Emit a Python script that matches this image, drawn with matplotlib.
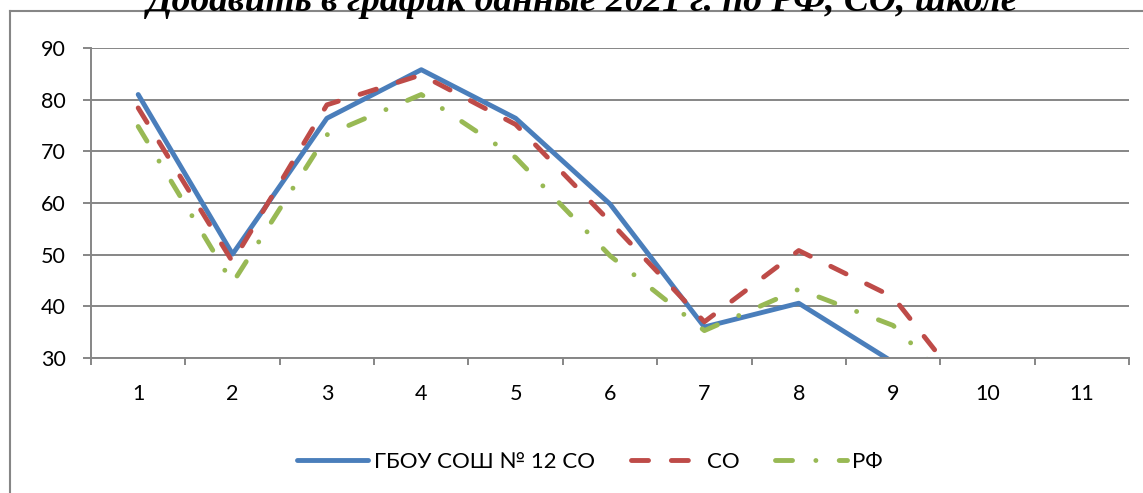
import matplotlib
matplotlib.use("Agg")
import matplotlib.pyplot as plt
from matplotlib.lines import Line2D

plt.rcParams["font.family"] = ["Lato", "DejaVu Sans"]

# номера заданий и средний процент выполнения
tasks = list(range(1, 12))
tick_labels = [str(t) for t in tasks]
school = [81.0, 50.1, 76.4, 85.8, 76.4, 59.8, 36.0, 40.6, 29.2]
region = [78.4, 48.6, 79.0, 84.8, 75.2, 56.4, 37.0, 50.8, 41.8, 18.6]
russia = [74.8, 44.5, 73.2, 81.0, 68.8, 49.8, 35.3, 43.3, 36.3, 18.2]
names = ["ГБОУ СОШ № 12 СО", "СО", "РФ"]
colors = ["#4A7EBB", "#BE4B48", "#98B954"]
title = "Добавить в график данные 2021 г. по РФ, СО, школе"

W, H = 1143, 493
fig = plt.figure(figsize=(W / 100, H / 100), dpi=100)
ax = fig.add_axes([91 / W, 1 - 358 / H, (1129 - 91) / W, (358 - 48) / H])

grid_c = "#868686"
lw = 3.5
ax.plot(tasks[:len(school)], school, color=colors[0], lw=lw,
        solid_joinstyle="round", solid_capstyle="round", label=names[0])
ax.plot(tasks[:len(region)], region, color=colors[1], lw=lw,
        dashes=(3.5, 4.7), dash_capstyle="round", dash_joinstyle="round",
        label=names[1])
ax.plot(tasks[:len(russia)], russia, color=colors[2], lw=lw,
        dashes=(3.5, 4.8, 0.01, 4.8), dash_capstyle="round",
        dash_joinstyle="round", label=names[2])

ax.set_xlim(0.5, 11.5)
ax.set_ylim(30, 90)
ax.set_yticks(range(30, 91, 10))
ax.yaxis.grid(True, color=grid_c, lw=1.4)
ax.set_axisbelow(True)

# деления по границам категорий, подписи по центру
ax.set_xticks([t - 0.5 for t in tasks] + [11.5])
ax.set_xticklabels([])
ax.set_xticks(tasks, minor=True)
ax.set_xticklabels(tick_labels, minor=True)
ax.tick_params(axis="x", which="major", length=5, width=1.4, color=grid_c)
ax.tick_params(axis="x", which="minor", length=0, pad=19, labelsize=15.5)
ax.tick_params(axis="y", length=6, width=1.4, color=grid_c, pad=12, labelsize=15.5)

for s in ("top", "right"):
    ax.spines[s].set_visible(False)
for s in ("left", "bottom"):
    ax.spines[s].set_color(grid_c)
    ax.spines[s].set_linewidth(1.4)

leg = fig.legend(loc="center", bbox_to_anchor=(590 / W, 1 - 462 / H),
                 ncol=3, frameon=False, fontsize=16, handlelength=3.2,
                 handletextpad=0.25, columnspacing=1.6)

# рамка области диаграммы
fig.add_artist(Line2D([10 / W, 10 / W], [0, 1 - 11 / H], color=grid_c, lw=1.5))
fig.add_artist(Line2D([10 / W, 1], [1 - 11 / H, 1 - 11 / H], color=grid_c, lw=1.5))

fig.text(583 / W, 1 - 11 / H, title, ha="center", va="baseline",
         family="Liberation Serif", weight="bold", style="italic", fontsize=27)

fig.savefig("out.png", dpi=100)
